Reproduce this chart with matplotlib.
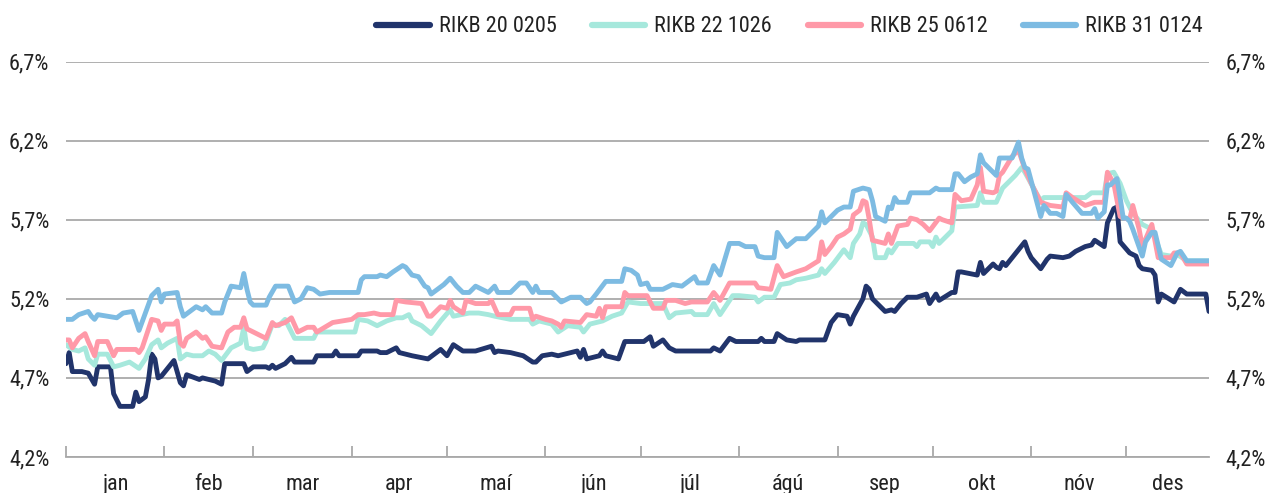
import matplotlib
matplotlib.use("Agg")
import matplotlib.pyplot as plt
import pandas as pd
from matplotlib import font_manager as fm
from matplotlib.ticker import FixedLocator, FuncFormatter, NullFormatter

# ---------------- data ----------------
months = ['jan', 'feb', 'mar', 'apr', 'maí', 'jún', 'júl', 'ágú', 'sep', 'okt', 'nóv', 'des']
series_names = ['RIKB 20 0205', 'RIKB 22 1026', 'RIKB 25 0612', 'RIKB 31 0124']
yticks = [4.2, 4.7, 5.2, 5.7, 6.2, 6.7]

# day of year (0 = 1 Jan) and yield in %
d20 = [0, 1, 2, 5, 7, 9, 10, 14, 15, 17, 21, 22, 23, 25, 26, 27, 28, 29, 30, 34, 36, 37, 38, 42, 43, 47, 49, 50,
       56, 57, 59, 63, 64, 65, 66, 69, 71, 72, 78, 79, 84, 85, 86, 92, 93, 98, 99, 101, 104, 105, 109, 114, 118,
       120, 122, 125, 129, 134, 135, 136, 140, 144, 147, 148, 150, 153, 155, 161, 162, 163, 164, 168, 169, 170,
       174, 176, 182, 184, 185, 188, 190, 192, 203, 204, 206, 209, 211, 218, 219, 220, 223, 224, 227, 230, 231,
       239, 241, 243, 246, 247, 248, 251, 252, 253, 254, 258, 260, 261, 263, 265, 268, 271, 272, 274, 275, 279,
       280, 281, 282, 287, 288, 289, 292, 293, 294, 295, 296, 302, 303, 304, 307, 309, 310, 314, 316, 318, 321,
       323, 324, 327, 328, 330, 331, 332, 335, 337, 338, 339, 342, 343, 344, 345, 349, 351, 353, 359, 360]
v20 = [4.79, 4.86, 4.74, 4.74, 4.73, 4.66, 4.77, 4.77, 4.60, 4.52, 4.52, 4.61, 4.55, 4.58, 4.69, 4.85, 4.82, 4.70,
       4.71, 4.81, 4.67, 4.65, 4.72, 4.69, 4.70, 4.68, 4.66, 4.79, 4.79, 4.74, 4.77, 4.77, 4.76, 4.78, 4.76, 4.79,
       4.83, 4.80, 4.80, 4.84, 4.84, 4.87, 4.84, 4.84, 4.87, 4.87, 4.86, 4.86, 4.89, 4.86, 4.84, 4.82, 4.88, 4.84,
       4.91, 4.87, 4.87, 4.90, 4.86, 4.87, 4.86, 4.84, 4.80, 4.80, 4.84, 4.85, 4.84, 4.87, 4.83, 4.88, 4.82, 4.84,
       4.87, 4.84, 4.82, 4.93, 4.93, 4.96, 4.90, 4.94, 4.89, 4.87, 4.87, 4.89, 4.87, 4.95, 4.93, 4.93, 4.95, 4.93,
       4.93, 4.98, 4.94, 4.93, 4.94, 4.94, 5.05, 5.10, 5.09, 5.04, 5.09, 5.20, 5.28, 5.26, 5.20, 5.12, 5.13, 5.12,
       5.17, 5.21, 5.21, 5.23, 5.17, 5.23, 5.19, 5.24, 5.24, 5.37, 5.37, 5.35, 5.43, 5.36, 5.42, 5.40, 5.39, 5.43,
       5.41, 5.56, 5.50, 5.46, 5.39, 5.45, 5.47, 5.46, 5.47, 5.50, 5.53, 5.54, 5.57, 5.53, 5.68, 5.77, 5.78, 5.56,
       5.49, 5.47, 5.41, 5.39, 5.38, 5.35, 5.18, 5.23, 5.18, 5.26, 5.23, 5.23, 5.12]

d22 = [0, 2, 4, 6, 7, 9, 10, 13, 15, 17, 20, 23, 25, 27, 29, 30, 32, 35, 36, 38, 40, 43, 45, 47, 49, 52, 55, 56,
       57, 59, 62, 63, 65, 67, 69, 72, 78, 79, 91, 92, 95, 98, 101, 104, 106, 108, 109, 112, 115, 118, 121, 122,
       127, 130, 133, 135, 140, 146, 147, 149, 153, 155, 158, 162, 163, 165, 169, 172, 175, 177, 181, 188, 190,
       192, 197, 198, 202, 204, 206, 210, 212, 217, 218, 220, 223, 225, 228, 230, 233, 237, 238, 239, 242, 245,
       247, 248, 250, 251, 252, 254, 255, 258, 259, 260, 262, 267, 268, 269, 272, 273, 274, 275, 279, 280, 287,
       288, 289, 293, 295, 299, 301, 302, 305, 307, 308, 315, 321, 323, 327, 328, 330, 332, 334, 336, 339, 342,
       345, 348, 350, 353, 360]
v22 = [4.91, 4.88, 4.87, 4.89, 4.82, 4.78, 4.85, 4.85, 4.77, 4.78, 4.80, 4.76, 4.82, 4.91, 4.94, 4.89, 4.92, 4.95,
       4.82, 4.85, 4.84, 4.84, 4.87, 4.85, 4.81, 4.89, 4.92, 5.02, 4.89, 4.88, 4.89, 4.93, 5.04, 5.03, 5.07, 4.95,
       4.95, 4.99, 4.99, 5.07, 5.06, 5.03, 5.06, 5.08, 5.08, 5.10, 5.06, 5.03, 4.98, 5.06, 5.13, 5.09, 5.11, 5.11,
       5.10, 5.09, 5.07, 5.07, 5.04, 5.06, 5.04, 4.99, 5.03, 5.02, 4.99, 5.04, 5.06, 5.09, 5.11, 5.18, 5.17, 5.17,
       5.08, 5.11, 5.12, 5.10, 5.10, 5.17, 5.10, 5.22, 5.22, 5.21, 5.18, 5.21, 5.21, 5.29, 5.30, 5.32, 5.33, 5.35,
       5.39, 5.36, 5.43, 5.51, 5.46, 5.55, 5.61, 5.68, 5.67, 5.59, 5.46, 5.46, 5.51, 5.49, 5.55, 5.55, 5.53, 5.56,
       5.56, 5.53, 5.59, 5.55, 5.63, 5.78, 5.79, 5.87, 5.81, 5.81, 5.90, 5.98, 6.03, 6.00, 5.89, 5.82, 5.84, 5.84,
       5.84, 5.87, 5.87, 5.99, 6.00, 5.93, 5.82, 5.74, 5.67, 5.64, 5.48, 5.47, 5.48, 5.44, 5.44]

d25 = [0, 1, 2, 4, 6, 7, 9, 10, 13, 15, 16, 22, 23, 24, 27, 29, 30, 31, 34, 35, 36, 37, 38, 41, 43, 44, 46, 49,
       51, 53, 55, 56, 57, 60, 63, 65, 66, 69, 71, 73, 76, 78, 79, 84, 90, 92, 94, 97, 99, 103, 104, 107, 112,
       114, 115, 118, 120, 121, 122, 125, 126, 129, 133, 134, 136, 140, 141, 146, 147, 148, 151, 153, 155, 156,
       157, 162, 164, 167, 168, 169, 170, 175, 176, 177, 183, 185, 188, 189, 192, 195, 197, 202, 204, 206, 209,
       217, 218, 222, 224, 226, 230, 233, 237, 238, 239, 241, 243, 245, 247, 248, 250, 251, 252, 253, 254, 258,
       259, 260, 262, 265, 266, 268, 270, 272, 275, 276, 279, 280, 282, 285, 287, 288, 289, 292, 293, 294, 295,
       298, 300, 301, 302, 304, 307, 310, 314, 315, 317, 321, 324, 327, 328, 330, 332, 335, 336, 338, 339, 342,
       344, 348, 349, 351, 353, 360]
v25 = [4.94, 4.94, 4.89, 4.95, 4.98, 4.93, 4.84, 4.93, 4.93, 4.84, 4.88, 4.88, 4.86, 4.89, 5.07, 5.06, 5.00, 5.04,
       5.04, 5.06, 4.92, 4.90, 4.95, 4.99, 4.95, 4.96, 4.90, 4.89, 4.99, 5.02, 5.02, 5.08, 5.01, 4.98, 4.95, 5.05,
       5.03, 5.05, 5.08, 4.99, 5.02, 5.02, 4.99, 5.05, 5.07, 5.10, 5.10, 5.11, 5.10, 5.10, 5.19, 5.18, 5.17, 5.09,
       5.09, 5.15, 5.14, 5.19, 5.15, 5.11, 5.19, 5.17, 5.17, 5.19, 5.10, 5.10, 5.14, 5.14, 5.07, 5.09, 5.07, 5.06,
       5.04, 5.02, 5.06, 5.05, 5.10, 5.09, 5.14, 5.08, 5.15, 5.15, 5.24, 5.22, 5.22, 5.14, 5.14, 5.19, 5.19, 5.17,
       5.18, 5.18, 5.24, 5.19, 5.30, 5.30, 5.27, 5.26, 5.41, 5.34, 5.37, 5.39, 5.44, 5.56, 5.48, 5.53, 5.59, 5.61,
       5.64, 5.73, 5.76, 5.82, 5.81, 5.70, 5.57, 5.55, 5.61, 5.55, 5.66, 5.67, 5.71, 5.70, 5.67, 5.63, 5.71, 5.70,
       5.68, 5.86, 5.82, 5.83, 5.92, 6.03, 5.88, 5.87, 5.88, 5.98, 6.00, 6.10, 6.14, 6.08, 6.02, 5.93, 5.81, 5.79,
       5.78, 5.87, 5.84, 5.79, 5.81, 5.81, 6.00, 5.93, 5.72, 5.70, 5.79, 5.64, 5.53, 5.67, 5.46, 5.46, 5.49, 5.49,
       5.42, 5.42]

d31 = [0, 2, 4, 7, 8, 9, 10, 13, 16, 18, 21, 23, 25, 27, 29, 30, 31, 35, 36, 37, 39, 41, 43, 44, 46, 49, 50, 52,
       55, 56, 57, 58, 59, 63, 64, 66, 70, 72, 74, 76, 78, 80, 83, 92, 93, 94, 98, 99, 101, 103, 106, 107, 109,
       111, 113, 114, 115, 119, 121, 123, 125, 127, 129, 133, 135, 136, 140, 143, 145, 147, 148, 149, 153, 155,
       156, 159, 162, 164, 165, 167, 170, 175, 176, 178, 180, 181, 183, 184, 188, 191, 194, 198, 199, 202, 204,
       206, 209, 212, 214, 217, 218, 220, 223, 224, 227, 230, 233, 237, 238, 239, 243, 245, 247, 248, 251, 253,
       254, 255, 258, 259, 260, 261, 262, 265, 266, 272, 274, 275, 279, 280, 281, 283, 285, 287, 288, 289, 292,
       293, 294, 298, 300, 301, 302, 303, 305, 307, 308, 310, 312, 314, 315, 317, 320, 323, 324, 325, 327, 328,
       329, 331, 332, 333, 334, 335, 336, 339, 340, 342, 343, 345, 348, 350, 351, 353, 360]
v31 = [5.07, 5.07, 5.10, 5.12, 5.09, 5.07, 5.10, 5.09, 5.08, 5.11, 5.12, 5.00, 5.11, 5.22, 5.26, 5.18, 5.23, 5.24,
       5.15, 5.09, 5.12, 5.15, 5.13, 5.15, 5.11, 5.11, 5.18, 5.28, 5.27, 5.36, 5.26, 5.18, 5.16, 5.16, 5.21, 5.28,
       5.28, 5.18, 5.20, 5.27, 5.26, 5.23, 5.24, 5.24, 5.32, 5.34, 5.34, 5.35, 5.34, 5.37, 5.41, 5.40, 5.35, 5.34,
       5.28, 5.27, 5.23, 5.29, 5.33, 5.28, 5.24, 5.24, 5.28, 5.24, 5.28, 5.24, 5.24, 5.30, 5.30, 5.24, 5.28, 5.24,
       5.24, 5.20, 5.18, 5.21, 5.21, 5.17, 5.18, 5.23, 5.31, 5.31, 5.39, 5.38, 5.35, 5.29, 5.30, 5.26, 5.26, 5.29,
       5.28, 5.34, 5.30, 5.30, 5.41, 5.35, 5.55, 5.55, 5.53, 5.53, 5.47, 5.46, 5.46, 5.62, 5.53, 5.58, 5.58, 5.66,
       5.75, 5.68, 5.76, 5.78, 5.78, 5.88, 5.90, 5.89, 5.82, 5.72, 5.69, 5.78, 5.77, 5.84, 5.81, 5.81, 5.87, 5.87,
       5.90, 5.89, 5.89, 5.99, 5.99, 5.94, 5.97, 5.99, 6.11, 6.06, 6.00, 5.98, 6.09, 6.09, 6.19, 6.09, 6.03, 6.02,
       5.87, 5.72, 5.79, 5.74, 5.74, 5.72, 5.86, 5.81, 5.74, 5.74, 5.77, 5.71, 5.75, 5.92, 5.92, 5.96, 5.84, 5.71,
       5.71, 5.69, 5.64, 5.47, 5.56, 5.62, 5.62, 5.45, 5.41, 5.49, 5.50, 5.44, 5.44]

colors = ['#21346b', '#a6e8dc', '#ff99a8', '#7dbbe2']
x_end = 360

# ---------------- font: prefer an extra-condensed sans face ----------------
BASES = ('Noto Sans', 'Roboto', 'Open Sans', 'DejaVu Sans', 'Liberation Sans', 'Lato', 'Inter')


def rank(f):
    nm = (f.name + ' ' + str(f.fname)).replace('-', '').replace(' ', '').lower()
    st = str(f.stretch).replace('-', '').lower()
    if 'extracondensed' in nm or 'ultracondensed' in nm or st in ('extracondensed', 'ultracondensed'):
        return 0
    if 'semicondensed' in nm or st == 'semicondensed':
        return 2
    if 'condensed' in nm or 'narrow' in nm or st == 'condensed':
        return 1
    return 9


cands = []
for f in fm.fontManager.ttflist:
    nm = f.name + ' ' + str(f.fname)
    if not f.name.startswith(BASES):
        continue
    if f.style != 'normal' or str(f.weight) not in ('400', 'normal', 'regular', 'book'):
        continue
    if any(k in nm for k in ('Mono', 'Serif', 'Bold', 'CJK', 'Display', 'Light', 'Medium', 'Thin', 'Black')):
        continue
    r = rank(f)
    if r < 9:
        cands.append((r, BASES.index(next(b for b in BASES if f.name.startswith(b))), f.fname))
cands.sort()
if cands:
    FP = fm.FontProperties(fname=cands[0][2])
else:
    FP = fm.FontProperties(family='DejaVu Sans')

# ---------------- figure ----------------
W, H = 1274, 493
FS = 16
fp = FP.copy()
fp.set_size(FS)
fig = plt.figure(figsize=(W / 100, H / 100), dpi=100)
ax = fig.add_axes([66 / W, 1 - 457 / H, (1209 - 66) / W, (457 - 61.5) / H])

for d, v, c, n in zip([d20, d22, d25, d31], [v20, v22, v25, v31], colors, series_names):
    ax.plot(d, v, color=c, lw=3.5, label=n, solid_capstyle='round', solid_joinstyle='round', zorder=3)

ax.set_xlim(0, x_end)
ax.set_ylim(yticks[0], yticks[-1])

grid_c = '#a9a9a9'
text_c = '#222222'
ax.set_yticks(yticks)
ax.yaxis.set_major_formatter(FuncFormatter(lambda v, p: f"{v:.1f}%".replace('.', ',')))
ax.yaxis.grid(True, color=grid_c, lw=1.3)
ax.set_axisbelow(True)
for s in ['left', 'right', 'top']:
    ax.spines[s].set_visible(False)
ax.spines['bottom'].set_color(grid_c)
ax.spines['bottom'].set_linewidth(1.3)
ax.tick_params(axis='y', length=0, labelleft=True, labelright=True, pad=12, labelcolor=text_c)

starts = list(pd.date_range('2018-01-01', periods=12, freq='MS').dayofyear - 1)
mids = [(a + b) / 2 for a, b in zip(starts, starts[1:] + [x_end])]
ax.xaxis.set_major_locator(FixedLocator(starts))
ax.xaxis.set_major_formatter(NullFormatter())
ax.set_xticks(mids, months, minor=True)
ax.tick_params(axis='x', which='major', direction='in', length=8, width=1.3, color=grid_c)
ax.tick_params(axis='x', which='minor', length=0, pad=12, labelcolor=text_c)

for lab in ax.get_xticklabels(minor=True):
    lab.set_fontproperties(fp)
for t in ax.yaxis.get_major_ticks():
    t.label1.set_fontproperties(fp)
    t.label2.set_fontproperties(fp)

leg = fig.legend(loc='center right', bbox_to_anchor=(1212 / W, 1 - 27 / H), ncol=4, frameon=False,
                 prop=fp, handlelength=2.4, handletextpad=0.4, columnspacing=1.6,
                 labelcolor=text_c, borderaxespad=0)
for line in leg.get_lines():
    line.set_linewidth(4.5)

fig.savefig('out.png', dpi=100)
